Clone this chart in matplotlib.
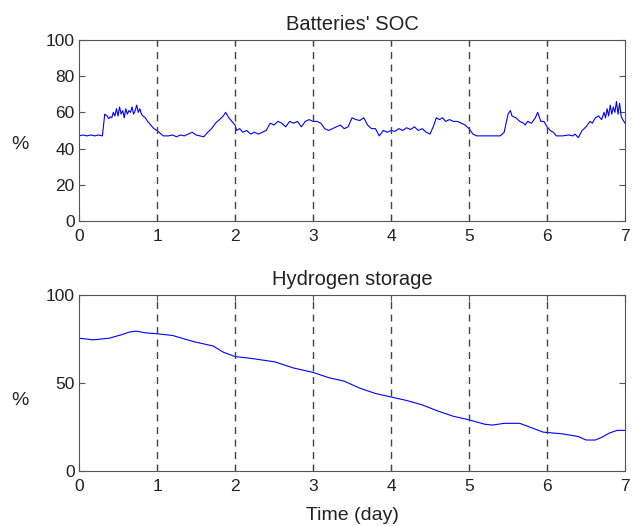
import numpy as np
import matplotlib.pyplot as plt

plt.rcParams['font.family'] = ['Liberation Sans', 'DejaVu Sans']

# Batteries' state of charge (%)
soc_t = [0.00, 0.05, 0.10, 0.15, 0.20, 0.25, 0.30, 0.33, 0.36, 0.38, 0.40, 0.42, 0.44, 0.46,
         0.48, 0.50, 0.52, 0.54, 0.56, 0.58, 0.60, 0.62, 0.64, 0.66, 0.68, 0.70, 0.72, 0.74,
         0.76, 0.78, 0.80, 0.82, 0.85, 0.88, 0.92, 0.96, 1.00, 1.04, 1.08, 1.15, 1.20, 1.25,
         1.30, 1.35, 1.40, 1.45, 1.50, 1.55, 1.60, 1.65, 1.70, 1.75, 1.80, 1.85, 1.88, 1.92,
         1.96, 2.00, 2.02, 2.06, 2.10, 2.15, 2.20, 2.25, 2.30, 2.35, 2.40, 2.45, 2.50, 2.55,
         2.60, 2.65, 2.70, 2.75, 2.80, 2.85, 2.90, 2.95, 3.00, 3.05, 3.10, 3.15, 3.20, 3.25,
         3.30, 3.35, 3.40, 3.45, 3.50, 3.55, 3.60, 3.65, 3.70, 3.75, 3.80, 3.85, 3.90, 3.95,
         4.00, 4.05, 4.10, 4.15, 4.20, 4.25, 4.30, 4.35, 4.40, 4.45, 4.50, 4.55, 4.58, 4.62,
         4.66, 4.70, 4.75, 4.80, 4.85, 4.90, 4.95, 5.00, 5.05, 5.10, 5.20, 5.30, 5.40, 5.45,
         5.50, 5.53, 5.55, 5.60, 5.65, 5.70, 5.72, 5.75, 5.80, 5.85, 5.88, 5.92, 5.96, 6.00,
         6.04, 6.08, 6.12, 6.20, 6.28, 6.33, 6.36, 6.40, 6.45, 6.50, 6.55, 6.58, 6.62, 6.66,
         6.70, 6.73, 6.75, 6.77, 6.79, 6.81, 6.83, 6.85, 6.87, 6.89, 6.91, 6.93, 6.95, 6.97,
         7.00]
soc_v = [47, 47.5, 47, 47.5, 47, 47.5, 47, 59, 58, 56.5, 57.5, 57, 60, 58,
         62, 58, 63, 59, 61, 57, 62, 59, 61, 60, 63, 59, 61, 64,
         60, 62, 59, 58, 57, 55, 53, 51, 50, 48.5, 47, 47, 47.5, 46.5,
         47.5, 47, 48, 49, 47.5, 47, 46.5, 49, 51, 54, 56, 58, 60, 57,
         55, 53, 50, 51, 49, 50, 48, 49, 48, 49, 50, 54, 53, 55,
         54, 52, 55, 54, 55, 52, 55, 56, 55, 55, 54, 51, 50, 51,
         52, 53, 51, 52, 57, 56, 55.5, 57, 53, 51, 51, 47, 50, 49,
         50, 49.5, 51, 50, 51.5, 50.5, 52, 50, 51, 49, 48, 53, 57, 56,
         57, 55, 56, 55, 55, 54, 53, 51, 48, 47, 47, 47, 47, 49,
         59, 61, 58, 57, 55, 54, 53, 55, 54, 57, 60, 55, 55, 52,
         50, 49, 47, 47, 47.5, 47, 48, 46, 50, 52, 55, 54, 57, 58,
         56, 60, 57, 62, 58, 64, 59, 63, 60, 66, 59, 65, 58, 56,
         54]

# Hydrogen storage level (%)
h2_t = [0.00, 0.18, 0.39, 0.55, 0.65, 0.73, 0.85, 1.00, 1.20, 1.47, 1.72, 1.85, 2.00, 2.20,
        2.51, 2.75, 3.00, 3.20, 3.40, 3.60, 3.80, 4.00, 4.20, 4.40, 4.60, 4.80, 5.00, 5.20,
        5.30, 5.45, 5.65, 5.80, 5.95, 6.20, 6.40, 6.50, 6.62, 6.70, 6.80, 6.90, 7.00]
h2_v = [75.5, 74.5, 75.5, 77.5, 79, 79.5, 78.5, 78, 77, 73.5, 71, 67.5, 65, 64,
        62, 58.5, 56, 53, 51, 47, 44, 42, 40, 37.5, 34, 31, 29, 26.5,
        26, 27, 27, 24.5, 22, 21, 19.5, 17.5, 17.5, 19, 21.5, 23, 23]

day_lines = [1, 2, 3, 4, 5, 6]

fig = plt.figure(figsize=(6.32, 5.26), dpi=100)
ax1 = fig.add_axes([0.125, 0.580, 0.864, 0.344])
ax2 = fig.add_axes([0.125, 0.105, 0.864, 0.334])

for ax, t, v, title, yt, ly in [(ax1, soc_t, soc_v, "Batteries' SOC", [0, 20, 40, 60, 80, 100], 0.42),
                                (ax2, h2_t, h2_v, 'Hydrogen storage', [0, 50, 100], 0.40)]:
    ax.plot(t, v, color='#0000ff', lw=0.8)
    for d in day_lines:
        ax.axvline(d, color='#444444', ls=(0, (5, 4)), lw=1)
    ax.set_xlim(0, 7)
    ax.set_ylim(0, 100)
    ax.set_yticks(yt)
    ax.set_xticks(range(8))
    for s in ax.spines.values():
        s.set_color('#555555')
    ax.tick_params(direction='in', top=True, right=True, labelsize=12.5, length=4,
                   color='#555555', labelcolor='#222222')
    ax.tick_params(axis='x', pad=6)
    ax.tick_params(axis='y', pad=3)
    ax.set_title(title, fontsize=14.5, pad=7, color='#222222')
    ax.set_ylabel('%', rotation=0, fontsize=14, ha='center', va='center', color='#222222')
    ax.yaxis.set_label_coords(-0.108, ly)

ax2.set_xlabel('Time (day)', fontsize=14, labelpad=9, color='#222222')

fig.savefig('out.png', dpi=100)
